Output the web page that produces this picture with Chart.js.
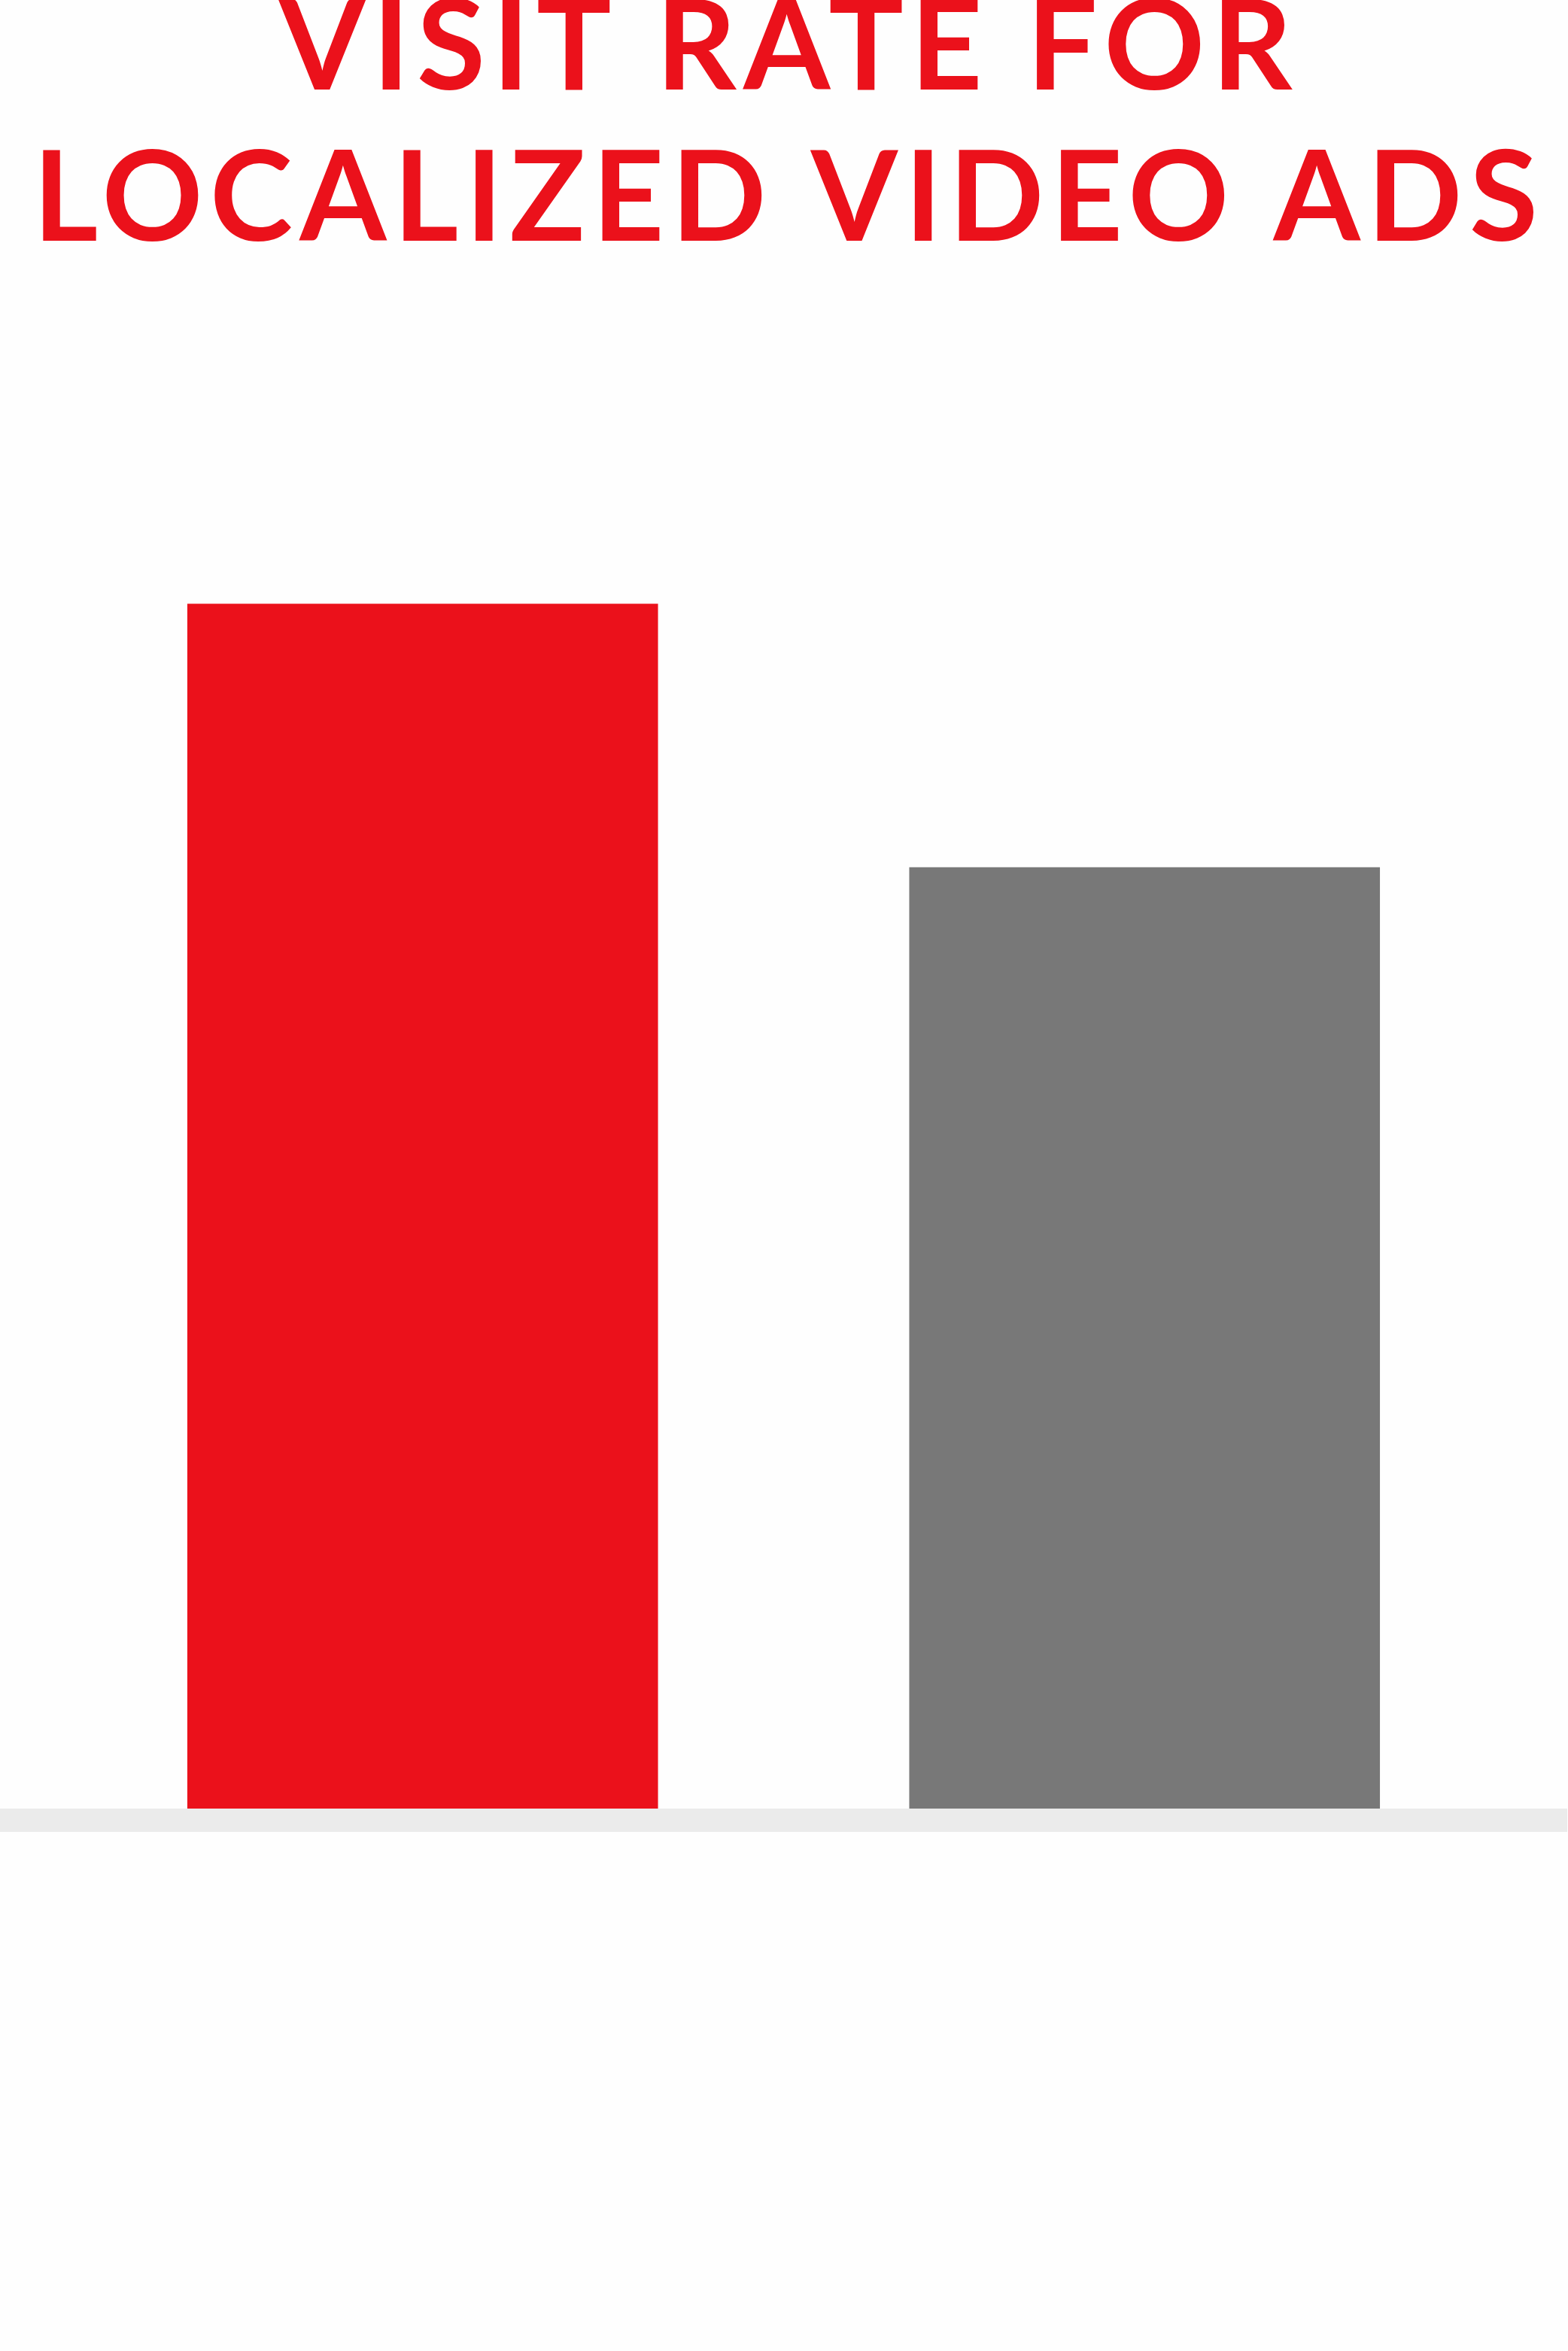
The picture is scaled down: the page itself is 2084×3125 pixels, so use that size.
<!DOCTYPE html>
<html>
<head>
<meta charset="utf-8">
<script src="https://cdn.jsdelivr.net/npm/chart.js@4.4.1/dist/chart.umd.min.js"></script>
<style>
  html, body { margin: 0; padding: 0; background: #fefefe; }
  #wrap { width: 2084px; height: 3125px; position: relative; }
</style>
</head>
<body>
<div id="wrap"><canvas id="visitChart"></canvas></div>
<script>
// Chart data
const titleLines = ['VISIT RATE FOR', 'LOCALIZED VIDEO ADS'];
const categories = ['Localized', 'Non-localized'];
const visitRates = [32, 25];
const barColors = ['#eb111b', '#787878'];

// Title drawn with letter spacing, fitted so line 2 spans the page
const spacedTitle = {
    id: 'spacedTitle',
    afterDraw(chart) {
        const ctx = chart.ctx;
        ctx.save();
        ctx.fillStyle = '#eb111b';
        ctx.font = '700 166px Lato';
        ctx.textBaseline = 'alphabetic';
        ctx.textAlign = 'left';
        ctx.letterSpacing = '0px';
        const ref = titleLines[1];
        const w0 = ctx.measureText(ref).width;
        const ls = (2000 - w0) / (ref.length - 1);
        const baselines = [119, 320];
        titleLines.forEach((line, i) => {
            ctx.letterSpacing = '0px';
            const w = ctx.measureText(line).width + ls * (line.length - 1);
            ctx.letterSpacing = ls + 'px';
            ctx.fillText(line, 1044 - w / 2, baselines[i]);
        });
        ctx.restore();
    }
};

// Thick grey baseline across the whole width
const baseBand = {
    id: 'baseBand',
    afterDatasetsDraw(chart) {
        const ctx = chart.ctx;
        const y0 = chart.scales.y.getPixelForValue(0);
        ctx.save();
        ctx.fillStyle = '#ebebeb';
        ctx.fillRect(0, y0, chart.width - 1, 31);
        ctx.restore();
    }
};

new Chart(document.getElementById('visitChart'), {
    type: 'bar',
    data: {
        labels: categories,
        datasets: [{
            data: visitRates,
            backgroundColor: barColors,
            borderWidth: 0,
            barPercentage: 0.652,
            categoryPercentage: 1
        }]
    },
    options: {
        responsive: true,
        maintainAspectRatio: false,
        animation: false,
        layout: { padding: { left: 82, right: 83, top: 402, bottom: 721 } },
        plugins: {
            legend: { display: false },
            tooltip: { enabled: false },
            title: { display: false }
        },
        scales: {
            x: { display: false },
            y: { display: false, min: 0, max: 40 }
        }
    },
    plugins: [baseBand, spacedTitle]
});
</script>
</body>
</html>
